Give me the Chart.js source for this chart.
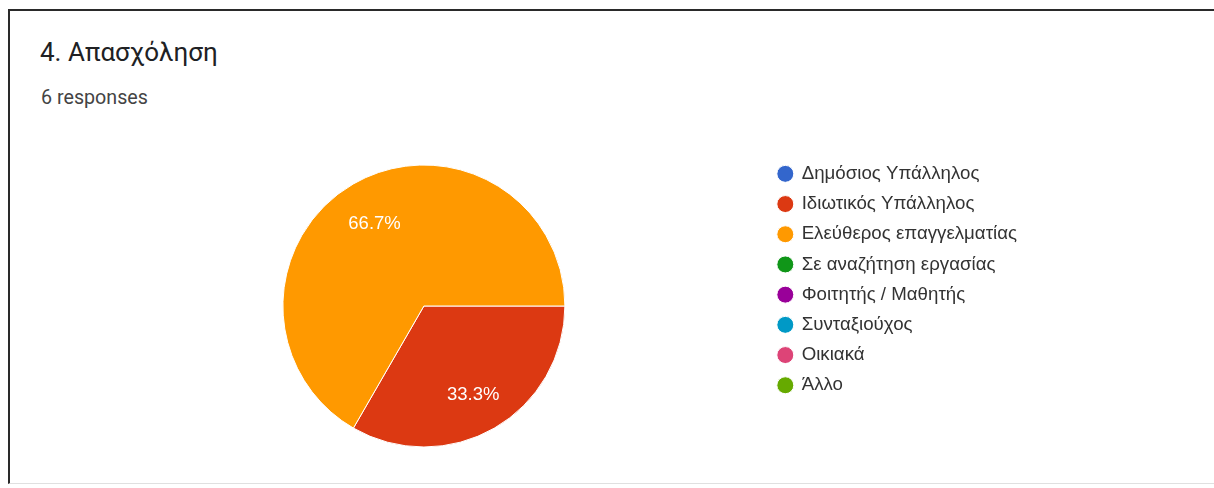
<!DOCTYPE html>
<html>
<head>
<meta charset="utf-8">
<script src="https://cdn.jsdelivr.net/npm/chart.js@4"></script>
<style>
  html, body { margin: 0; padding: 0; background: #fff; width: 1214px; height: 488px; overflow: hidden; font-family: Roboto, Arial, sans-serif; }
  .card { position: absolute; left: 8px; top: 9px; width: 1220px; height: 472px; border-top: 2px solid #2a2a2a; border-left: 2px solid #2a2a2a; border-bottom: 1px solid #e0e0e0; }
  .title { position: absolute; left: 40px; top: 37px; font-size: 26px; color: #202124; }
  .sub { position: absolute; left: 41px; top: 86px; font-size: 19.7px; color: #444; }
  .wrap { position: absolute; left: 81px; top: 153px; width: 946px; height: 306px; }
</style>
</head>
<body>
<div class="card"></div>
<div class="title">4. Απασχόληση</div>
<div class="sub">6 responses</div>
<div class="wrap"><canvas id="pie"></canvas></div>
<script>
const categories = ["Δημόσιος Υπάλληλος", "Ιδιωτικός Υπάλληλος", "Ελεύθερος επαγγελματίας", "Σε αναζήτηση εργασίας", "Φοιτητής / Μαθητής", "Συνταξιούχος", "Οικιακά", "Άλλο"];
const counts = [0, 2, 4, 0, 0, 0, 0, 0];
const colors = ["#3366cc", "#dc3912", "#ff9900", "#109618", "#990099", "#0099c6", "#dd4477", "#66aa00"];

// percentage labels inside the slices
const sliceLabels = {
  id: "sliceLabels",
  afterDatasetsDraw(chart) {
    const ctx = chart.ctx;
    const meta = chart.getDatasetMeta(0);
    const total = counts.reduce((a, b) => a + b, 0);
    ctx.save();
    ctx.fillStyle = "#fff";
    ctx.font = "18.5px 'Liberation Sans', Arial, sans-serif";
    ctx.textAlign = "center";
    ctx.textBaseline = "middle";
    meta.data.forEach((arc, i) => {
      if (!counts[i]) return;
      const p = arc.getProps(["x", "y", "startAngle", "endAngle", "outerRadius"]);
      const mid = (p.startAngle + p.endAngle) / 2;
      const r = p.outerRadius * 0.7;
      const pct = (counts[i] / total * 100).toFixed(1) + "%";
      ctx.fillText(pct, p.x + Math.cos(mid) * r, p.y + Math.sin(mid) * r + 3);
    });
    ctx.restore();
  },
};

new Chart(document.getElementById("pie"), {
  type: "pie",
  data: {
    labels: categories,
    datasets: [{ data: counts, backgroundColor: colors, borderColor: "#fff", borderWidth: 1, radius: 141 }],
  },
  options: {
    responsive: true,
    maintainAspectRatio: false,
    animation: false,
    rotation: 90,
    plugins: {
      tooltip: { enabled: false },
      legend: {
        position: "right",
        align: "start",
        labels: {
          usePointStyle: true,
          pointStyle: "circle",
          boxWidth: 14,
          boxHeight: 12,
          padding: 11.5,
          color: "#333",
          font: { size: 18.7, family: "'Liberation Sans', Arial, sans-serif" },
        },
      },
    },
  },
  plugins: [sliceLabels],
});
</script>
</body>
</html>
